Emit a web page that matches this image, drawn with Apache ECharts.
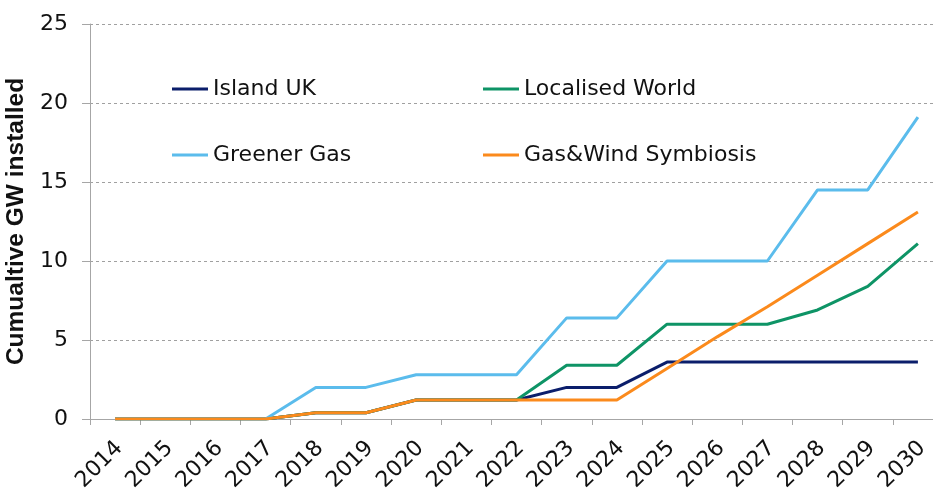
<!DOCTYPE html>
<html>
<head>
<meta charset="utf-8">
<script src="https://cdn.jsdelivr.net/npm/echarts@6/dist/echarts.min.js"></script>
<style>
  html, body { margin: 0; padding: 0; background: #fff; overflow: hidden; }
  #chart { width: 933px; height: 491px; }
</style>
</head>
<body>
<div id="chart"></div>
<script>
// Cumulative installed capacity (GW) by scenario, 2014–2030
const years = ['2014','2015','2016','2017','2018','2019','2020','2021','2022',
               '2023','2024','2025','2026','2027','2028','2029','2030'];
const islandUK        = [0, 0, 0, 0, 0.4, 0.4, 1.2, 1.2, 1.2, 2.0, 2.0, 3.6, 3.6, 3.6, 3.6, 3.6, 3.6];
const localisedWorld  = [0, 0, 0, 0, 0.4, 0.4, 1.2, 1.2, 1.2, 3.4, 3.4, 6.0, 6.0, 6.0, 6.9, 8.4, 11.1];
const greenerGas      = [0, 0, 0, 0, 2.0, 2.0, 2.8, 2.8, 2.8, 6.4, 6.4, 10.0, 10.0, 10.0, 14.5, 14.5, 19.1];
const gasWindSymbiosis= [0, 0, 0, 0, 0.4, 0.4, 1.2, 1.2, 1.2, 1.2, 1.2, 3.2, 5.2, 7.1, 9.1, 11.1, 13.1];
const yTicks = [0, 5, 10, 15, 20, 25];

const FONT = '"DejaVu Sans", Arial, sans-serif';
const TITLE_FONT = '"Liberation Sans", Arial, sans-serif';
const TEXT = '#111';
const AXIS = '#a6a6a6';

const colors = {
  'Island UK': '#0b1e6b',
  'Localised World': '#0e9466',
  'Greener Gas': '#5bbcec',
  'Gas&Wind Symbiosis': '#fb8a1c'
};

function line(name, data) {
  return {
    name, type: 'line', data,
    symbol: 'none',
    lineStyle: { width: 3, color: colors[name] },
    itemStyle: { color: colors[name] },
    emphasis: { disabled: true }
  };
}

const legendBase = {
  orient: 'vertical',
  top: 71,
  itemWidth: 36,
  itemHeight: 3,
  itemGap: 40,
  icon: 'rect',
  textStyle: { fontFamily: FONT, fontSize: 22, color: TEXT, lineHeight: 26 },
  selectedMode: false
};

const chart = echarts.init(document.getElementById('chart'));
chart.setOption({
  animation: false,
  backgroundColor: '#fff',
  // the plot runs past the right edge of the canvas, so the last category is cut off
  grid: { left: 90, top: 24, width: 853, bottom: 72, outerBoundsMode: 'none', containLabel: false },
  legend: [
    Object.assign({}, legendBase, { left: 167, data: ['Island UK', 'Greener Gas'] }),
    Object.assign({}, legendBase, { left: 478, data: ['Localised World', 'Gas&Wind Symbiosis'] })
  ],
  xAxis: {
    type: 'category',
    data: years,
    boundaryGap: true,
    axisLine: { lineStyle: { color: AXIS, width: 1 } },
    axisTick: { show: true, length: 6, lineStyle: { color: AXIS } },
    axisLabel: {
      rotate: 45, margin: 30, padding: [0, -6, 0, 0],
      fontFamily: FONT, fontSize: 22, color: TEXT, interval: 0
    },
    splitLine: { show: false }
  },
  yAxis: {
    type: 'value',
    min: yTicks[0],
    max: yTicks[yTicks.length - 1],
    interval: 5,
    name: 'Cumualtive GW installed',
    nameLocation: 'middle',
    nameGap: 54,
    nameTextStyle: { fontFamily: TITLE_FONT, fontSize: 24.5, fontWeight: 'bold', color: TEXT },
    axisLine: { show: true, lineStyle: { color: AXIS, width: 1 } },
    axisTick: { show: true, length: 8, lineStyle: { color: AXIS } },
    axisLabel: { margin: 22, fontFamily: FONT, fontSize: 22, color: TEXT },
    splitLine: { show: true, lineStyle: { color: '#a0a0a0', type: [3, 3], width: 1 } }
  },
  series: [
    line('Island UK', islandUK),
    line('Localised World', localisedWorld),
    line('Greener Gas', greenerGas),
    line('Gas&Wind Symbiosis', gasWindSymbiosis)
  ]
});
</script>
</body>
</html>
